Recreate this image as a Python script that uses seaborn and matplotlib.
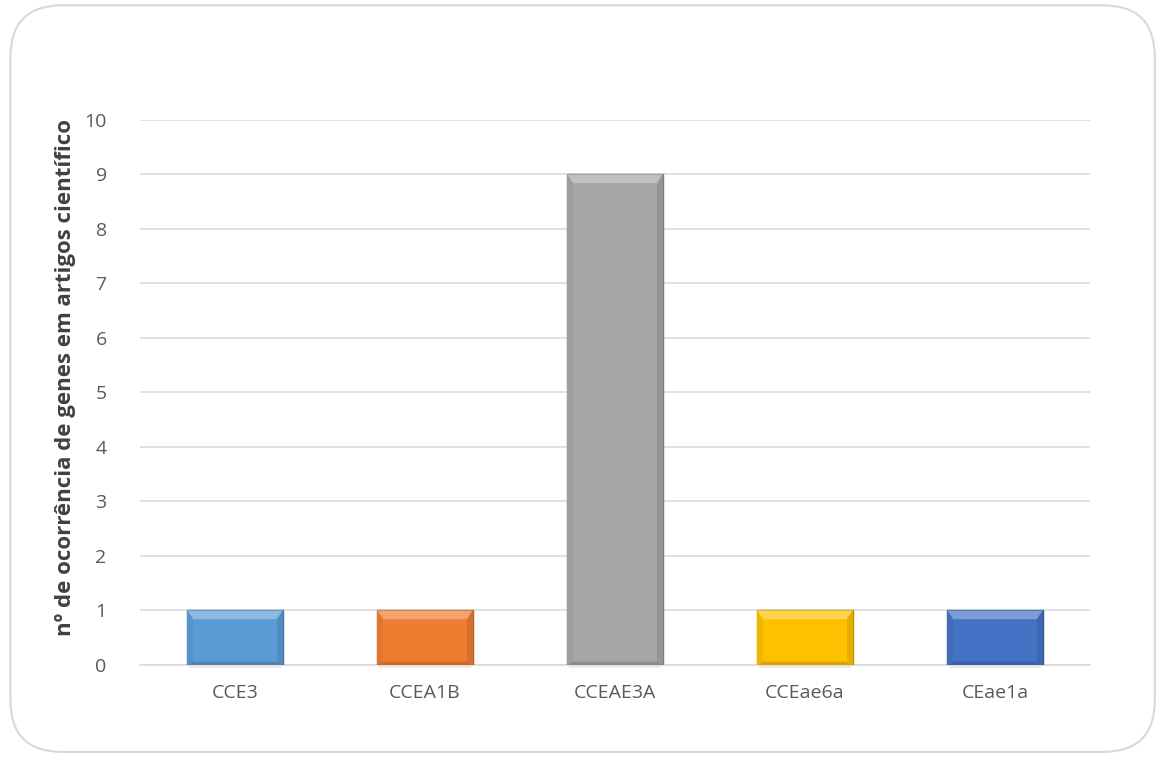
import matplotlib
matplotlib.use("Agg")
import matplotlib.pyplot as plt
import matplotlib.colors as mcolors
from matplotlib.patches import FancyBboxPatch, Polygon
import numpy as np
import pandas as pd
import seaborn as sns

# Data
genes = ["CCE3", "CCEA1B", "CCEAE3A", "CCEae6a", "CEae1a"]
ocorrencias = [1, 1, 9, 1, 1]
cores = ["#5B9BD5", "#ED7D31", "#A5A5A5", "#FFC000", "#4472C4"]
y_ticks = [0, 1, 2, 3, 4, 5, 6, 7, 8, 9, 10]
y_label = "nº de ocorrência de genes em artigos científico"

sns.set_theme(style="white")
plt.rcParams["font.family"] = ["Open Sans", "DejaVu Sans"]

fig = plt.figure(figsize=(11.56, 7.58), dpi=100)

# rounded chart-area frame
frame = FancyBboxPatch((0.009, 0.008), 0.99, 0.985,
                       boxstyle="round,pad=0,rounding_size=0.045",
                       transform=fig.transFigure, facecolor="none",
                       edgecolor="#D9D9D9", linewidth=1.5, zorder=-1,
                       mutation_aspect=1156 / 758)
fig.patches.append(frame)

ax = fig.add_axes([0.1211, 0.1227, 0.8218, 0.719])
ax.set_facecolor("none")

df = pd.DataFrame({"gene": genes, "n": ocorrencias})
sns.barplot(data=df, x="gene", y="n", hue="gene", palette=cores,
            width=0.505, legend=False, ax=ax, zorder=3, saturation=1)

# bevelled look: darker outline, lighter top band and shaded sides
for patch, c in zip(ax.patches[:len(genes)], cores):
    x0, y0 = patch.get_x(), patch.get_y()
    w, h = patch.get_width(), patch.get_height()
    base = np.array(mcolors.to_rgb(c))
    dark = base * 0.75
    light = base + (1 - base) * 0.3
    patch.set_edgecolor(dark)
    patch.set_linewidth(1.0)
    bw = w * 0.06
    bh = 0.16
    # top bevel
    ax.add_patch(Polygon([(x0, y0 + h), (x0 + w, y0 + h), (x0 + w - bw, y0 + h - bh),
                          (x0 + bw, y0 + h - bh)], closed=True,
                         facecolor=light, edgecolor="none", zorder=4))
    # right bevel
    ax.add_patch(Polygon([(x0 + w, y0 + h), (x0 + w, y0), (x0 + w - bw, y0),
                          (x0 + w - bw, y0 + h - bh)], closed=True,
                         facecolor=base * 0.9, edgecolor="none", zorder=4))
    # left bevel
    ax.add_patch(Polygon([(x0, y0 + h), (x0, y0), (x0 + bw, y0),
                          (x0 + bw, y0 + h - bh)], closed=True,
                         facecolor=base * 0.95, edgecolor="none", zorder=4))
    # bottom bevel
    ax.add_patch(Polygon([(x0, y0), (x0 + w, y0), (x0 + w - bw, y0 + 0.06),
                          (x0 + bw, y0 + 0.06)], closed=True,
                         facecolor=base * 0.85, edgecolor="none", zorder=4))
    # soft shadow under bar
    ax.add_patch(Polygon([(x0 + 0.01, y0 - 0.05), (x0 + w - 0.01, y0 - 0.05),
                          (x0 + w - 0.01, y0), (x0 + 0.01, y0)], closed=True,
                         facecolor="#EBEBEB", edgecolor="none", zorder=2, clip_on=False))
    patch.set_zorder(3)

ax.set_ylim(0, 10)
ax.set_xlim(-0.5, len(genes) - 0.5)
ax.set_yticks(y_ticks)
ax.yaxis.grid(True, color="#D9D9D9", linewidth=1.1, zorder=0)
ax.xaxis.grid(False)
ax.set_axisbelow(True)
for s in ["top", "right", "left"]:
    ax.spines[s].set_visible(False)
ax.spines["bottom"].set_color("#D9D9D9")
ax.spines["bottom"].set_linewidth(1.1)
ax.tick_params(axis="both", length=0, colors="#595959", labelsize=14)
ax.tick_params(axis="y", pad=24)
ax.tick_params(axis="x", pad=14)
ax.set_xlabel("")
ax.set_ylabel(y_label, fontsize=16, fontweight="bold", color="#404040")
ax.yaxis.set_label_coords(-0.067, 0.527)

fig.savefig("out.png", dpi=100)
